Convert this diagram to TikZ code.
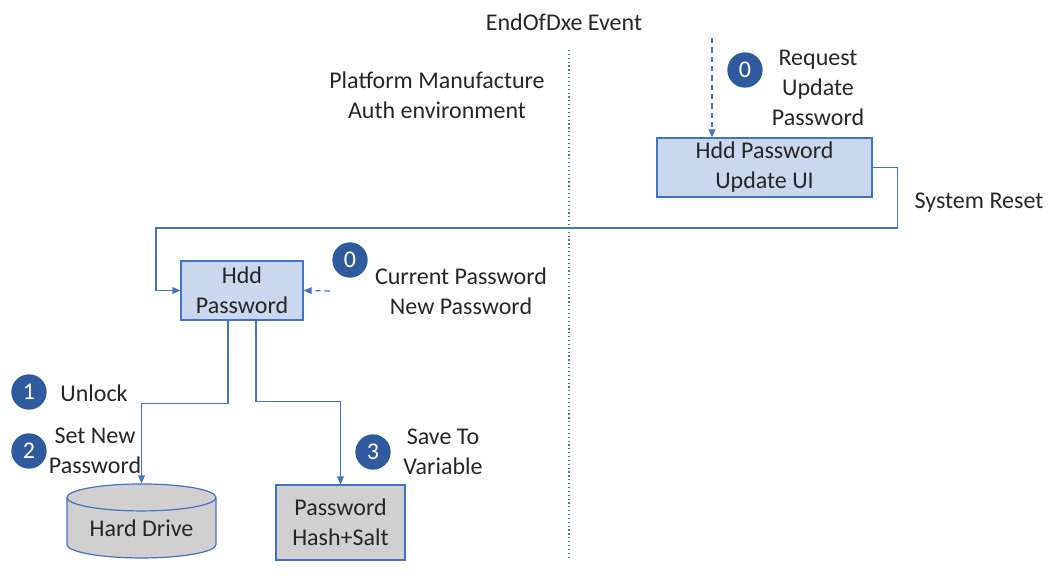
\documentclass[tikz,border=0pt]{standalone}
\usepackage{fontspec}
\setmainfont{Carlito}
\usepackage{xcolor}
\usetikzlibrary{arrows.meta,positioning,shapes.geometric}

\definecolor{lineblue}{HTML}{4472C4}
\definecolor{boxfill}{HTML}{CAD7EC}
\definecolor{badgeblue}{HTML}{2F5A9E}
\definecolor{grayfill}{HTML}{D0D0D0}
\definecolor{txt}{HTML}{262626}

\tikzset{
  txtfont/.style={font=\fontsize{18}{22.5}\selectfont, text=txt},
  bluebox/.style={draw=lineblue, line width=0.9pt, fill=boxfill, txtfont, align=center, inner sep=0pt},
  graybox/.style={draw=lineblue, line width=0.9pt, fill=grayfill, txtfont, align=center, inner sep=0pt},
  badge/.style={circle, fill=badgeblue, text=white, minimum size=26.5pt, inner sep=0pt, font=\fontsize{18}{22.5}\selectfont},
  label/.style={txtfont, align=center, inner sep=0pt},
  flow/.style={draw=lineblue, line width=1pt, -{Triangle[length=6pt,width=5pt]}},
  dashflow/.style={flow, dash pattern=on 4pt off 3pt},
  divider/.style={draw=lineblue, line width=0.9pt, dotted}
}

\begin{document}
\begin{tikzpicture}[x=0.75pt, y=-0.75pt]
    \useasboundingbox (0,0) rectangle (1057,575);

    % Divider
    \coordinate (divtop) at (569,50);
    \coordinate (divbot) at (569,560);
    \draw[divider] (divtop) -- (divbot);
    \node[label] (event) at (564,22) {EndOfDxe Event};
    \node[label] (platform) at (437,95) {Platform Manufacture\\Auth environment};

    % Update UI
    \node[bluebox, minimum width=161.25pt, minimum height=44.25pt] (ui) at (764.5,167.5) {Hdd Password\\Update UI};
    \node[badge] (req0) at (745,70) {0};
    \node[label] (reqtext) at (818,88) {Request\\Update\\Password};
    \node[label] (reset) at (979,203) {System Reset};

    % Hdd Password
    \node[bluebox, minimum width=91.5pt, minimum height=44.25pt] (hdd) at (242,290.5) {Hdd\\Password};
    \node[badge] (cur0) at (350,260) {0};
    \node[label] (curtext) at (461,291) {Current Password\\New Password};

    % Storage
    \node[draw=lineblue, line width=0.9pt, fill=grayfill, cylinder, shape border rotate=90, aspect=0.26, minimum width=111.75pt, minimum height=55.5pt, txtfont, inner sep=0pt] (drive) at (141.5,528) {Hard Drive};
    \node[graybox, minimum width=96.75pt, minimum height=56.25pt] (salt) at (340.5,522.5) {Password\\Hash+Salt};

    % Steps
    \node[badge] (step1) at (29,392) {1};
    \node[label] (unlock) at (94,393) {Unlock};
    \node[badge] (step2) at (29,451) {2};
    \node[label] (setnew) at (95,451) {Set New\\Password};
    \node[badge] (step3) at (373,452) {3};
    \node[label] (saveto) at (443,452) {Save To\\Variable};

    % Arrows
    \coordinate (reqin) at (712,38);
    \draw[dashflow] (reqin) -- (reqin |- ui.north);
    \draw[flow] (ui.east) -- ++(25,0) |- (156,228) |- (hdd.west);
    \coordinate (curin) at (330,291);
    \draw[dashflow] (curin) -- (hdd.east);
    \draw[flow] ([xshift=-10.5pt]hdd.south) -- ++(0,83) -| (drive.north);
    \draw[flow] ([xshift=10.5pt]hdd.south) -- ++(0,81) -| (salt.north);
\end{tikzpicture}
\end{document}
